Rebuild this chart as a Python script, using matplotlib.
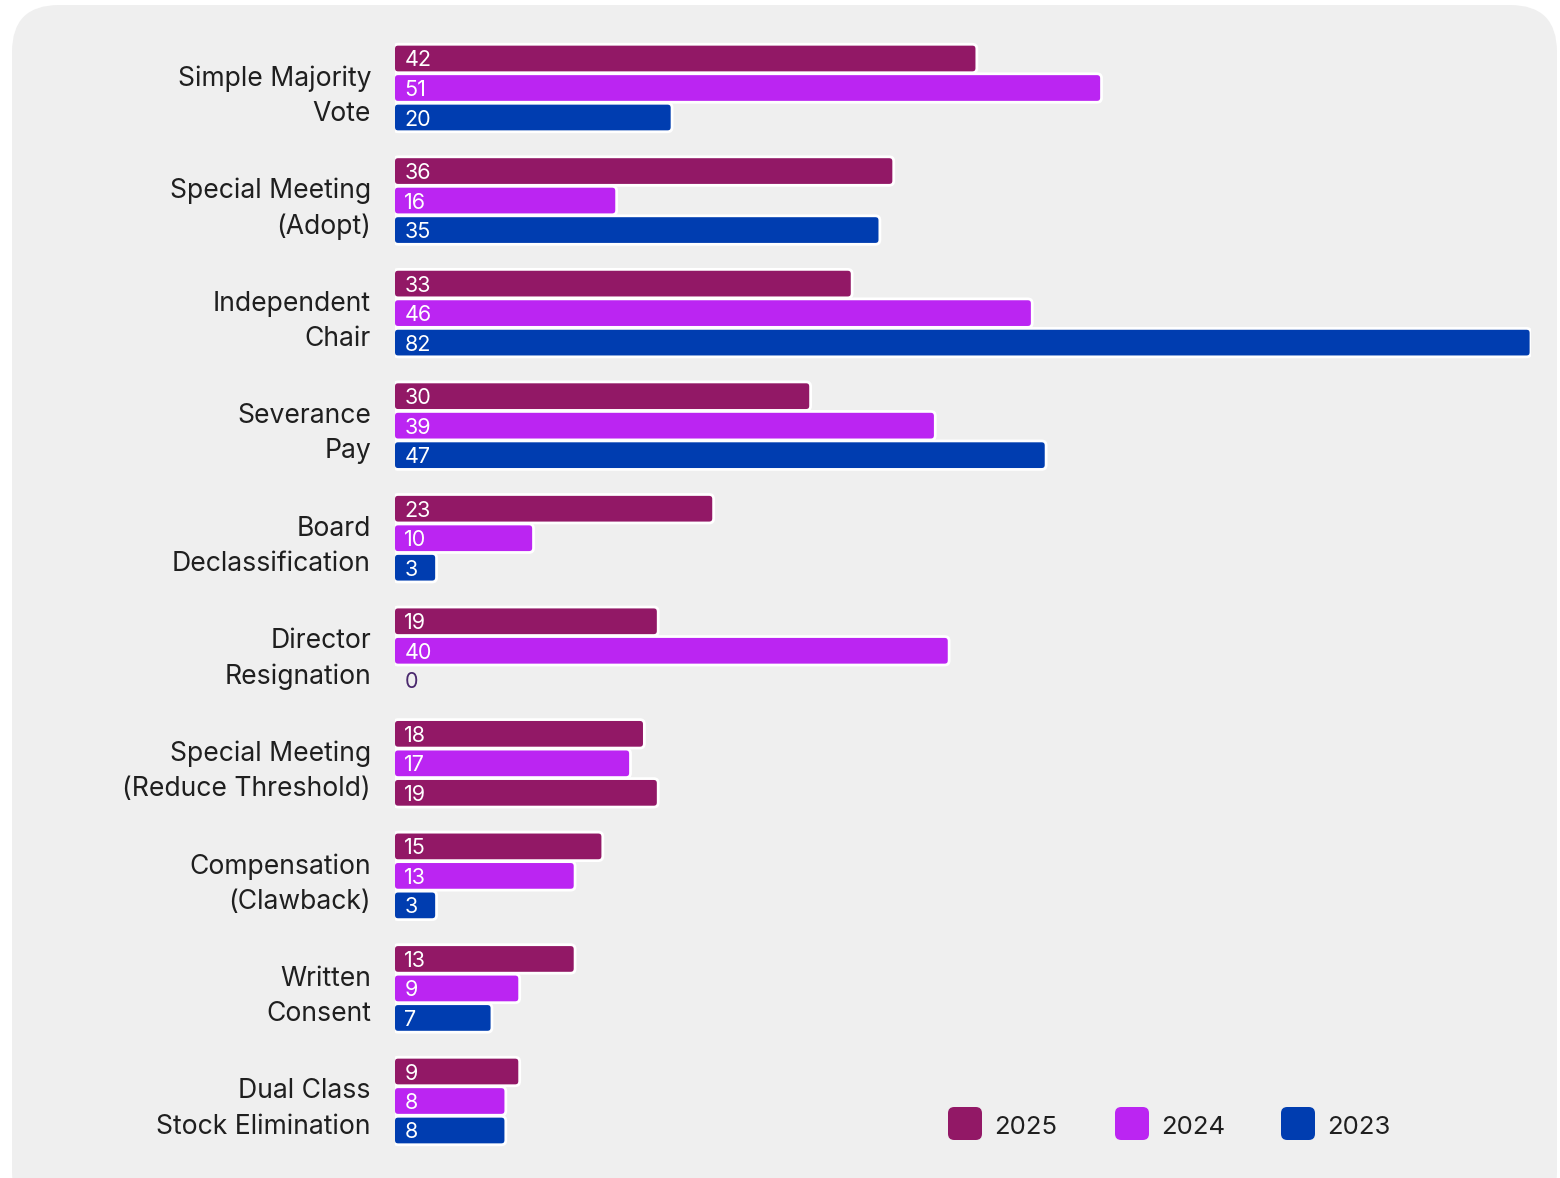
import matplotlib
matplotlib.use("Agg")
import matplotlib.pyplot as plt
from matplotlib.patches import FancyBboxPatch

categories = ["Simple Majority\nVote", "Special Meeting\n(Adopt)", "Independent\nChair",
              "Severance\nPay", "Board\nDeclassification", "Director\nResignation",
              "Special Meeting\n(Reduce Threshold)", "Compensation\n(Clawback)",
              "Written\nConsent", "Dual Class\nStock Elimination"]
series_names = ["2025", "2024", "2023"]
v2025 = [42, 36, 33, 30, 23, 19, 18, 15, 13, 9]
v2024 = [51, 16, 46, 39, 10, 40, 17, 13, 9, 8]
v2023 = [20, 35, 82, 47, 3, 0, 19, 3, 7, 8]
# the 2023 bar of "Special Meeting (Reduce Threshold)" is drawn in the 2025 colour in the original
colors = {"2025": "#921866", "2024": "#BB25F2", "2023": "#003DB0"}
bar_color_override = {(6, 2): "#921866"}

W, H = 1560, 1178
DPI = 100
fig = plt.figure(figsize=(W / DPI, H / DPI), dpi=DPI, facecolor="white")
plt.rcParams["font.family"] = ["Inter", "DejaVu Sans"]
LW = "normal"

# rounded background panel
bg = FancyBboxPatch((12 / W, -40 / H), (1545) / W, (1173 + 40) / H,
                    boxstyle="round,pad=0,rounding_size=0.03", mutation_aspect=W / H,
                    transform=fig.transFigure, facecolor="#efefef", edgecolor="none", zorder=-10)
fig.patches.append(bg)

x0px, x1px = 395, 1531
xmax = 82
y_first, y_last = 88, 1101
pxu = (y_last - y_first) / 9
ax = fig.add_axes([x0px / W, 0, (x1px - x0px) / W, 1])
ax.set_zorder(5)
ax.set_xlim(0, xmax)
ymin = -y_first / pxu
ymaxv = 9 + (H - y_last) / pxu
ax.set_ylim(ymaxv, ymin)
ax.set_facecolor("none")
ax.patch.set_alpha(0)
for s in ax.spines.values():
    s.set_visible(False)
ax.set_xticks([])

step = 29.5 / pxu
bh = 28.5 / pxu
xpx_per_unit = (x1px - x0px) / xmax
mut_aspect = xpx_per_unit / pxu
rr = 4.5 / xpx_per_unit
txt_dy = 2.0 / pxu

all_vals = [v2025, v2024, v2023]
for j, (name, vals) in enumerate(zip(series_names, all_vals)):
    ys = [i + (j - 1) * step for i in range(len(categories))]
    bars = ax.barh(ys, vals, height=bh, color=colors[name], alpha=0)
    for i, (b, v) in enumerate(zip(bars, vals)):
        c = bar_color_override.get((i, j), colors[name])
        if v > 0:
            p = FancyBboxPatch((b.get_x() - 0.1, b.get_y()), b.get_width() + 0.1, b.get_height(),
                               boxstyle=f"round,pad=0,rounding_size={rr}",
                               mutation_aspect=mut_aspect, facecolor=c,
                               edgecolor="white", linewidth=2.0, zorder=2)
            ax.add_patch(p)
            ax.text(0.68, ys[i] + txt_dy, str(v), color="white", fontsize=15.5, va="center",
                    ha="left", zorder=3, fontweight=LW)
        else:
            ax.text(0.68, ys[i] + txt_dy, str(v), color="#4b2a6e", fontsize=15.5, va="center",
                    ha="left", zorder=3, fontweight=LW)

ax.set_yticks(range(len(categories)))
ax.set_yticklabels([])
for i, lab in enumerate(categories):
    ax.text(-24 / xpx_per_unit, i + 8 / pxu, lab, fontsize=19.1, color="#1f1f1f", ha="right",
            va="center", multialignment="right", linespacing=1.45, fontweight=LW,
            clip_on=False)
ax.tick_params(axis="y", length=0)

# legend
leg_x = [948, 1115, 1281]
for name, lx in zip(series_names, leg_x):
    sq = FancyBboxPatch((lx / W, (H - 1140) / H), 34 / W, 33 / H,
                        boxstyle="round,pad=0,rounding_size=0.004", mutation_aspect=W / H,
                        transform=fig.transFigure, facecolor=colors[name], edgecolor="none")
    fig.patches.append(sq)
    fig.text((lx + 46) / W, (H - 1127) / H, name, fontsize=18.5, color="#1f1f1f",
             va="center", ha="left", fontweight=LW)

fig.savefig("out.png", dpi=DPI, facecolor="white")
